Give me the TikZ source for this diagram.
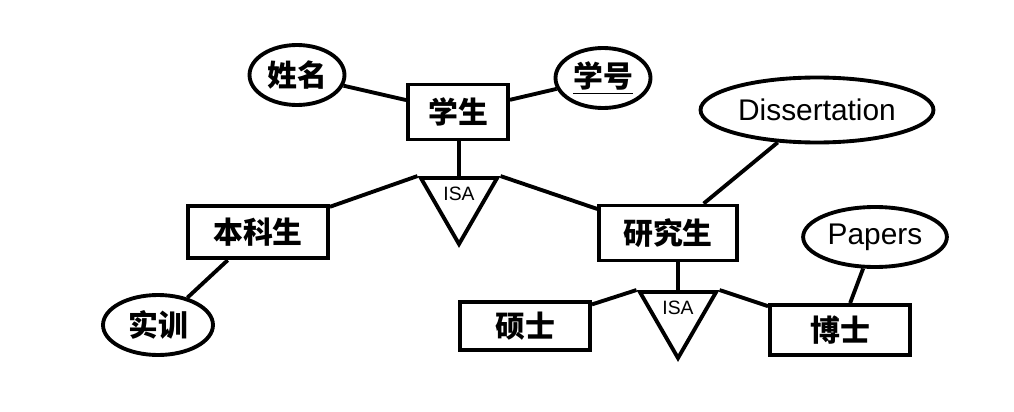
\documentclass[tikz,border=0pt]{standalone}
\usepackage{fontspec}
\setmainfont{Liberation Sans}
\newfontfamily\cjk{Noto Sans CJK SC}
\usetikzlibrary{shapes.geometric}
\begin{document}
\begin{tikzpicture}[x=0.02cm,y=-0.02cm,line width=2.2pt,
  entity/.style={draw,rectangle,font=\cjk\fontsize{17}{19}\selectfont\bfseries},
  attr/.style={draw,ellipse,inner sep=2pt,font=\fontsize{17}{19}\selectfont},
  isa/.style={draw,regular polygon,regular polygon sides=3,shape border rotate=180,
    minimum size=1.44cm,inner sep=0pt,font=\fontsize{11}{12}\selectfont}]

  \useasboundingbox (0,0) rectangle (1014,412);

  % Entitaeten
  \node[entity,minimum width=2cm,minimum height=1.1cm] (student) at (458,112) {学生};
  \node[entity,minimum width=2.8cm,minimum height=1.05cm] (bachelor) at (258,232) {本科生};
  \node[entity,minimum width=2.75cm,minimum height=1.1cm] (graduate) at (668,233) {研究生};
  \node[entity,minimum width=2.6cm,minimum height=0.95cm] (master) at (525,326) {硕士};
  \node[entity,minimum width=2.8cm,minimum height=1cm] (doctor) at (840,330) {博士};

  % Attribute
  \node[attr,minimum width=1.9cm,minimum height=1.2cm,font=\cjk\fontsize{17}{19}\selectfont\bfseries] (name) at (297,75) {姓名};
  \node[attr,minimum width=1.9cm,minimum height=1.2cm,font=\cjk\fontsize{17}{19}\selectfont\bfseries] (sid) at (603,78) {\underline{学号}};
  \node[attr,minimum width=3.9cm,minimum height=1.3cm] (diss) at (817,110) {Dissertation};
  \node[attr,minimum width=2.7cm,minimum height=1.2cm] (papers) at (875,237) {Papers};
  \node[attr,minimum width=2.2cm,minimum height=1.2cm,font=\cjk\fontsize{17}{19}\selectfont\bfseries] (train) at (158,325) {实训};

  % ISA
  \node[isa] (isa1) at (459,200) {\raisebox{1.2ex}{ISA}};
  \node[isa] (isa2) at (678,314) {\raisebox{1.2ex}{ISA}};

  % Verbindungen
  \draw (name) -- (student);
  \draw (sid) -- (student);
  \draw (student.south -| isa1.north) -- (isa1.north);
  \draw (isa1.corner 3) -- (bachelor);
  \draw (isa1.corner 2) -- (graduate);
  \draw (diss) -- (graduate);
  \draw (bachelor) -- (train);
  \draw (graduate.south -| isa2.north) -- (isa2.north);
  \draw (isa2.corner 3) -- (master);
  \draw (isa2.corner 2) -- (doctor);
  \draw (papers) -- (doctor);
\end{tikzpicture}
\end{document}
